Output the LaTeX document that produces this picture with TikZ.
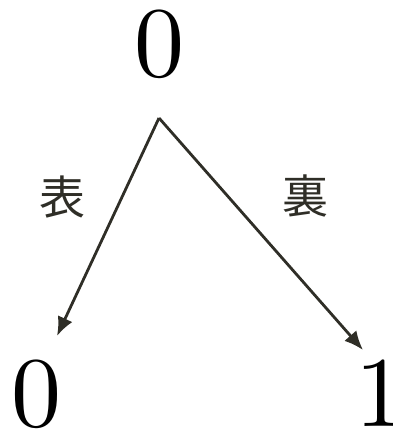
\documentclass[tikz,border=0pt]{standalone}
\usepackage{fontspec}
\newfontfamily\jpfont{Noto Sans CJK JP}
\newfontfamily\digitfont{lmroman10-regular}[Extension=.otf]
\usetikzlibrary{arrows.meta}
\definecolor{ink}{HTML}{2F2E27}
\tikzset{
  digit/.style={anchor=base, inner sep=0pt, font=\digitfont\fontsize{100}{100}\selectfont},
  side/.style={inner sep=0pt, text=ink, font=\jpfont\fontsize{46}{46}\selectfont},
  branch/.style={draw=ink, line width=2.8pt, -{Latex[length=19pt,width=16pt]}}
}
\begin{document}
\begin{tikzpicture}[x=1pt,y=1pt]
			\useasboundingbox (0,0) rectangle (392,-431);
			\draw (159,-76) node[digit] (top) {0};
			\draw (36,-426) node[digit] (heads) {0};
			\draw (380,-426) node[digit] (tails) {1};
			\coordinate (fork) at (159,-118);
			\coordinate (tipL) at (57,-336);
			\coordinate (tipR) at (363,-350);
			\draw[branch] (fork) -- (tipL);
			\draw[branch] (fork) -- (tipR);
			\draw (62,-197) node[side] (omote) {表};
			\draw (305,-196) node[side] (ura) {裏};
		\end{tikzpicture}
\end{document}
